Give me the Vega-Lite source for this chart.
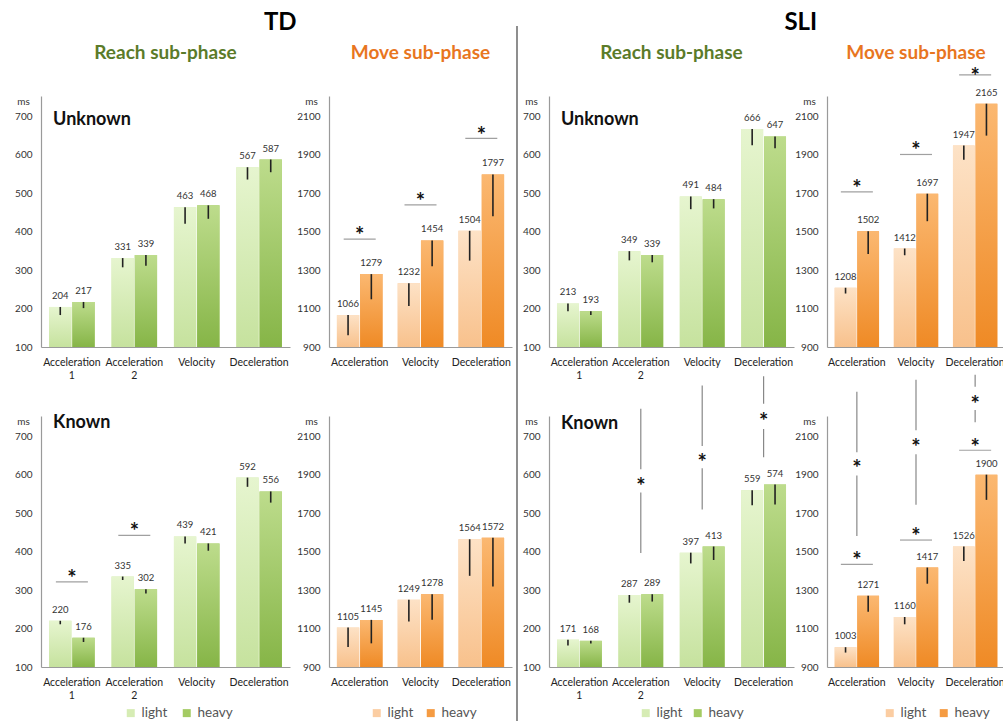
{
"$schema": "https://vega.github.io/schema/vega-lite/v6.json",
"background": "white",
"padding": {"left": 14, "top": 10, "right": 0, "bottom": 0},
"datasets": {
"bars": [
{"g":"TD","c":"Unknown","s":"Reach","phase":"Acceleration 1","w":"light","v":204,"lo":183},
{"g":"TD","c":"Unknown","s":"Reach","phase":"Acceleration 1","w":"heavy","v":217,"lo":201},
{"g":"TD","c":"Unknown","s":"Reach","phase":"Acceleration 2","w":"light","v":331,"lo":307},
{"g":"TD","c":"Unknown","s":"Reach","phase":"Acceleration 2","w":"heavy","v":339,"lo":311},
{"g":"TD","c":"Unknown","s":"Reach","phase":"Velocity","w":"light","v":463,"lo":420},
{"g":"TD","c":"Unknown","s":"Reach","phase":"Velocity","w":"heavy","v":468,"lo":433},
{"g":"TD","c":"Unknown","s":"Reach","phase":"Deceleration","w":"light","v":567,"lo":535},
{"g":"TD","c":"Unknown","s":"Reach","phase":"Deceleration","w":"heavy","v":587,"lo":554},
{"g":"TD","c":"Unknown","s":"Move","phase":"Acceleration","w":"light","v":1066,"lo":961},
{"g":"TD","c":"Unknown","s":"Move","phase":"Acceleration","w":"heavy","v":1279,"lo":1148},
{"g":"TD","c":"Unknown","s":"Move","phase":"Velocity","w":"light","v":1232,"lo":1113},
{"g":"TD","c":"Unknown","s":"Move","phase":"Velocity","w":"heavy","v":1454,"lo":1320},
{"g":"TD","c":"Unknown","s":"Move","phase":"Deceleration","w":"light","v":1504,"lo":1349},
{"g":"TD","c":"Unknown","s":"Move","phase":"Deceleration","w":"heavy","v":1797,"lo":1580},
{"g":"SLI","c":"Unknown","s":"Reach","phase":"Acceleration 1","w":"light","v":213,"lo":193},
{"g":"SLI","c":"Unknown","s":"Reach","phase":"Acceleration 1","w":"heavy","v":193,"lo":183},
{"g":"SLI","c":"Unknown","s":"Reach","phase":"Acceleration 2","w":"light","v":349,"lo":325},
{"g":"SLI","c":"Unknown","s":"Reach","phase":"Acceleration 2","w":"heavy","v":339,"lo":320},
{"g":"SLI","c":"Unknown","s":"Reach","phase":"Velocity","w":"light","v":491,"lo":458},
{"g":"SLI","c":"Unknown","s":"Reach","phase":"Velocity","w":"heavy","v":484,"lo":460},
{"g":"SLI","c":"Unknown","s":"Reach","phase":"Deceleration","w":"light","v":666,"lo":624},
{"g":"SLI","c":"Unknown","s":"Reach","phase":"Deceleration","w":"heavy","v":647,"lo":616},
{"g":"SLI","c":"Unknown","s":"Move","phase":"Acceleration","w":"light","v":1208,"lo":1178},
{"g":"SLI","c":"Unknown","s":"Move","phase":"Acceleration","w":"heavy","v":1502,"lo":1383},
{"g":"SLI","c":"Unknown","s":"Move","phase":"Velocity","w":"light","v":1412,"lo":1377},
{"g":"SLI","c":"Unknown","s":"Move","phase":"Velocity","w":"heavy","v":1697,"lo":1554},
{"g":"SLI","c":"Unknown","s":"Move","phase":"Deceleration","w":"light","v":1947,"lo":1874},
{"g":"SLI","c":"Unknown","s":"Move","phase":"Deceleration","w":"heavy","v":2165,"lo":1999},
{"g":"TD","c":"Known","s":"Reach","phase":"Acceleration 1","w":"light","v":220,"lo":211},
{"g":"TD","c":"Known","s":"Reach","phase":"Acceleration 1","w":"heavy","v":176,"lo":165},
{"g":"TD","c":"Known","s":"Reach","phase":"Acceleration 2","w":"light","v":335,"lo":326},
{"g":"TD","c":"Known","s":"Reach","phase":"Acceleration 2","w":"heavy","v":302,"lo":291},
{"g":"TD","c":"Known","s":"Reach","phase":"Velocity","w":"light","v":439,"lo":421},
{"g":"TD","c":"Known","s":"Reach","phase":"Velocity","w":"heavy","v":421,"lo":402},
{"g":"TD","c":"Known","s":"Reach","phase":"Deceleration","w":"light","v":592,"lo":568},
{"g":"TD","c":"Known","s":"Reach","phase":"Deceleration","w":"heavy","v":556,"lo":527},
{"g":"TD","c":"Known","s":"Move","phase":"Acceleration","w":"light","v":1105,"lo":1004},
{"g":"TD","c":"Known","s":"Move","phase":"Acceleration","w":"heavy","v":1145,"lo":1023},
{"g":"TD","c":"Known","s":"Move","phase":"Velocity","w":"light","v":1249,"lo":1136},
{"g":"TD","c":"Known","s":"Move","phase":"Velocity","w":"heavy","v":1278,"lo":1146},
{"g":"TD","c":"Known","s":"Move","phase":"Deceleration","w":"light","v":1564,"lo":1374},
{"g":"TD","c":"Known","s":"Move","phase":"Deceleration","w":"heavy","v":1572,"lo":1318},
{"g":"SLI","c":"Known","s":"Reach","phase":"Acceleration 1","w":"light","v":171,"lo":156},
{"g":"SLI","c":"Known","s":"Reach","phase":"Acceleration 1","w":"heavy","v":168,"lo":161},
{"g":"SLI","c":"Known","s":"Reach","phase":"Acceleration 2","w":"light","v":287,"lo":267},
{"g":"SLI","c":"Known","s":"Reach","phase":"Acceleration 2","w":"heavy","v":289,"lo":270},
{"g":"SLI","c":"Known","s":"Reach","phase":"Velocity","w":"light","v":397,"lo":369},
{"g":"SLI","c":"Known","s":"Reach","phase":"Velocity","w":"heavy","v":413,"lo":378},
{"g":"SLI","c":"Known","s":"Reach","phase":"Deceleration","w":"light","v":559,"lo":520},
{"g":"SLI","c":"Known","s":"Reach","phase":"Deceleration","w":"heavy","v":574,"lo":522},
{"g":"SLI","c":"Known","s":"Move","phase":"Acceleration","w":"light","v":1003,"lo":975},
{"g":"SLI","c":"Known","s":"Move","phase":"Acceleration","w":"heavy","v":1271,"lo":1187},
{"g":"SLI","c":"Known","s":"Move","phase":"Velocity","w":"light","v":1160,"lo":1122},
{"g":"SLI","c":"Known","s":"Move","phase":"Velocity","w":"heavy","v":1417,"lo":1333},
{"g":"SLI","c":"Known","s":"Move","phase":"Deceleration","w":"light","v":1526,"lo":1451},
{"g":"SLI","c":"Known","s":"Move","phase":"Deceleration","w":"heavy","v":1900,"lo":1769}
],
"hlines": [
{"g":"TD","c":"Unknown","s":"Move","phase":"Acceleration","v":1461},
{"g":"TD","c":"Unknown","s":"Move","phase":"Velocity","v":1639},
{"g":"TD","c":"Unknown","s":"Move","phase":"Deceleration","v":1985},
{"g":"TD","c":"Known","s":"Reach","phase":"Acceleration 1","v":321},
{"g":"TD","c":"Known","s":"Reach","phase":"Acceleration 2","v":442},
{"g":"SLI","c":"Unknown","s":"Move","phase":"Acceleration","v":1707},
{"g":"SLI","c":"Unknown","s":"Move","phase":"Velocity","v":1901},
{"g":"SLI","c":"Unknown","s":"Move","phase":"Deceleration","v":2315},
{"g":"SLI","c":"Known","s":"Move","phase":"Acceleration","v":1434},
{"g":"SLI","c":"Known","s":"Move","phase":"Velocity","v":1560},
{"g":"SLI","c":"Known","s":"Move","phase":"Deceleration","v":2027}
],
"stars": [
{"g":"TD","c":"Unknown","s":"Move","phase":"Acceleration","v":1503},
{"g":"TD","c":"Unknown","s":"Move","phase":"Velocity","v":1681},
{"g":"TD","c":"Unknown","s":"Move","phase":"Deceleration","v":2021},
{"g":"TD","c":"Known","s":"Reach","phase":"Acceleration 1","v":342},
{"g":"TD","c":"Known","s":"Reach","phase":"Acceleration 2","v":463},
{"g":"SLI","c":"Unknown","s":"Move","phase":"Acceleration","v":1749},
{"g":"SLI","c":"Unknown","s":"Move","phase":"Velocity","v":1943},
{"g":"SLI","c":"Unknown","s":"Move","phase":"Deceleration","v":2330},
{"g":"SLI","c":"Known","s":"Move","phase":"Acceleration","v":1476},
{"g":"SLI","c":"Known","s":"Move","phase":"Velocity","v":1602},
{"g":"SLI","c":"Known","s":"Move","phase":"Deceleration","v":2063},
{"g":"SLI","c":"Known","s":"Reach","phase":"Acceleration 2","v":580},
{"g":"SLI","c":"Known","s":"Reach","phase":"Velocity","v":642},
{"g":"SLI","c":"Known","s":"Reach","phase":"Deceleration","v":750},
{"g":"SLI","c":"Known","s":"Move","phase":"Acceleration","v":1953},
{"g":"SLI","c":"Known","s":"Move","phase":"Velocity","v":2063},
{"g":"SLI","c":"Known","s":"Move","phase":"Deceleration","v":2289}
],
"vsegs": [
{"g":"SLI","c":"Known","s":"Reach","phase":"Acceleration 2","v":771,"v2":614},
{"g":"SLI","c":"Known","s":"Reach","phase":"Acceleration 2","v":553,"v2":396},
{"g":"SLI","c":"Known","s":"Reach","phase":"Velocity","v":831,"v2":674},
{"g":"SLI","c":"Known","s":"Reach","phase":"Velocity","v":616,"v2":509},
{"g":"SLI","c":"Known","s":"Reach","phase":"Deceleration","v":855,"v2":784},
{"g":"SLI","c":"Known","s":"Reach","phase":"Deceleration","v":718,"v2":645},
{"g":"SLI","c":"Known","s":"Move","phase":"Acceleration","v":2331,"v2":2016},
{"g":"SLI","c":"Known","s":"Move","phase":"Acceleration","v":1896,"v2":1581},
{"g":"SLI","c":"Known","s":"Move","phase":"Velocity","v":2393,"v2":2131},
{"g":"SLI","c":"Known","s":"Move","phase":"Velocity","v":2006,"v2":1744},
{"g":"SLI","c":"Known","s":"Move","phase":"Deceleration","v":2420,"v2":2357},
{"g":"SLI","c":"Known","s":"Move","phase":"Deceleration","v":2236,"v2":2173}
],
"labels": [
{"g":"TD","c":"Unknown","phase":"Acceleration 1","v":690,"t":"Unknown"},
{"g":"SLI","c":"Unknown","phase":"Acceleration 1","v":690,"t":"Unknown"},
{"g":"TD","c":"Known","phase":"Acceleration 1","v":735,"t":"Known"},
{"g":"SLI","c":"Known","phase":"Acceleration 1","v":730,"t":"Known"}
],
"divider": [{"x": 0, "y": -0.1, "y2": 1.0986}]
},
"resolve": {"scale": {"x": "independent", "y": "independent", "color": "independent", "xOffset": "independent"}, "axis": {"x": "independent", "y": "independent"}, "legend": {"color": "independent"}},
"spacing": 4,
"hconcat": [
{
"title": {"text": "TD", "fontSize": 24, "fontWeight": "bold", "color": "#000", "offset": -15, "baseline": "bottom", "dx": 17},
"spacing": 6,
"resolve": {"scale": {"x": "independent", "y": "independent", "color": "independent", "xOffset": "independent"}, "axis": {"x": "independent", "y": "independent"}, "legend": {"color": "independent"}},
"hconcat": [
{"spacing": 69, "bounds": "flush",
"resolve": {"scale": {"x": "independent", "y": "independent", "color": "independent", "xOffset": "independent"}, "axis": {"x": "independent", "y": "independent"}, "legend": {"color": "independent"}},
"vconcat": [
{"width": 249, "height": 251,
"title": {"text": "Reach sub-phase", "color": "#5b7b29", "fontSize": 19, "fontWeight": "bold", "offset": 14, "baseline": "bottom"},
"layer": [
{"data": {"name": "bars"}, "transform": [{"filter": "datum.g=='TD'&&datum.c=='Unknown'&&datum.s=='Reach'"}],
"mark": {"type": "bar"},
"encoding": {
"x": {"field": "phase", "type": "nominal", "sort": null, "scale": {"domain": ["Acceleration 1","Acceleration 2","Velocity","Deceleration"], "paddingInner": 0.27, "paddingOuter": 0.13}, "axis": {"title": null, "labelExpr": "split(datum.label, ' ')"}},
"xOffset": {"field": "w", "type": "nominal", "sort": null, "scale": {"domain": ["light","heavy"], "paddingInner": 0.04}},
"y": {"field": "v", "type": "quantitative", "scale": {"domain": [100, 752], "nice": false, "zero": false}, "axis": {"title": "ms", "values": [100,200,300,400,500,600,700]}},
"y2": {"datum": 100},
"color": {"field": "w", "type": "nominal", "scale": {"domain": ["light","heavy"], "range": ["#d6ecb4","#a4cb63"]}, "legend": null}
}},
{"data": {"name": "bars"}, "transform": [{"filter": "datum.g=='TD'&&datum.c=='Unknown'&&datum.s=='Reach'"}],
"mark": {"type": "bar"},
"encoding": {
"x": {"field": "phase", "type": "nominal", "sort": null, "scale": {"domain": ["Acceleration 1","Acceleration 2","Velocity","Deceleration"], "paddingInner": 0.27, "paddingOuter": 0.13}},
"xOffset": {"field": "w", "type": "nominal", "sort": null, "scale": {"domain": ["light","heavy"], "paddingInner": 0.04}},
"y": {"field": "v", "type": "quantitative", "scale": {"domain": [100, 752], "nice": false, "zero": false}},
"y2": {"datum": 100},
"color": {"condition": {"test": "datum.w=='light'", "value": {"gradient": "linear", "x1": 0, "y1": 0, "x2": 0, "y2": 1, "stops": [{"offset": 0, "color": "#e6f5cf"}, {"offset": 1, "color": "#c6e29e"}]}}, "value": {"gradient": "linear", "x1": 0, "y1": 0, "x2": 0, "y2": 1, "stops": [{"offset": 0, "color": "#bddc8c"}, {"offset": 1, "color": "#86b547"}]}}
}},
{"data": {"name": "bars"}, "transform": [{"filter": "datum.g=='TD'&&datum.c=='Unknown'&&datum.s=='Reach'"}],
"mark": {"type": "rule", "color": "#222", "strokeWidth": 1.6},
"encoding": {
"x": {"field": "phase", "type": "nominal", "sort": null, "scale": {"domain": ["Acceleration 1","Acceleration 2","Velocity","Deceleration"], "paddingInner": 0.27, "paddingOuter": 0.13}},
"xOffset": {"field": "w", "type": "nominal", "sort": null, "scale": {"domain": ["light","heavy"], "paddingInner": 0.04}},
"y": {"field": "lo", "type": "quantitative", "scale": {"domain": [100, 752], "nice": false, "zero": false}},
"y2": {"field": "v"}
}},
{"data": {"name": "bars"}, "transform": [{"filter": "datum.g=='TD'&&datum.c=='Unknown'&&datum.s=='Reach'"}],
"mark": {"type": "text", "baseline": "bottom", "dy": -6, "fontSize": 9.5, "color": "#333"},
"encoding": {
"x": {"field": "phase", "type": "nominal", "sort": null, "scale": {"domain": ["Acceleration 1","Acceleration 2","Velocity","Deceleration"], "paddingInner": 0.27, "paddingOuter": 0.13}},
"xOffset": {"field": "w", "type": "nominal", "sort": null, "scale": {"domain": ["light","heavy"], "paddingInner": 0.04}},
"y": {"field": "v", "type": "quantitative", "scale": {"domain": [100, 752], "nice": false, "zero": false}},
"text": {"field": "v", "type": "quantitative", "format": "d"}
}},
{"data": {"name": "labels"}, "transform": [{"filter": "datum.g=='TD'&&datum.c=='Unknown'"}],
"mark": {"type": "text", "align": "left", "baseline": "middle", "dx": 4, "fontSize": 18, "fontWeight": "bold", "color": "#111"},
"encoding": {
"x": {"field": "phase", "type": "nominal", "sort": null, "bandPosition": 0, "scale": {"domain": ["Acceleration 1","Acceleration 2","Velocity","Deceleration"], "paddingInner": 0.27, "paddingOuter": 0.13}},
"y": {"field": "v", "type": "quantitative", "scale": {"domain": [100, 752], "nice": false, "zero": false}},
"text": {"field": "t"}
}}
]},
{"width": 249, "height": 251,
"layer": [
{"data": {"name": "bars"}, "transform": [{"filter": "datum.g=='TD'&&datum.c=='Known'&&datum.s=='Reach'"}],
"mark": {"type": "bar"},
"encoding": {
"x": {"field": "phase", "type": "nominal", "sort": null, "scale": {"domain": ["Acceleration 1","Acceleration 2","Velocity","Deceleration"], "paddingInner": 0.27, "paddingOuter": 0.13}, "axis": {"title": null, "labelExpr": "split(datum.label, ' ')"}},
"xOffset": {"field": "w", "type": "nominal", "sort": null, "scale": {"domain": ["light","heavy"], "paddingInner": 0.04}},
"y": {"field": "v", "type": "quantitative", "scale": {"domain": [100, 752], "nice": false, "zero": false}, "axis": {"title": "ms", "values": [100,200,300,400,500,600,700]}},
"y2": {"datum": 100},
"color": {"field": "w", "type": "nominal", "scale": {"domain": ["light","heavy"], "range": ["#d6ecb4","#a4cb63"]}, "legend": {"orient": "none", "legendX": 83, "legendY": 290, "direction": "horizontal", "title": null, "symbolType": "square", "symbolSize": 64, "symbolStrokeWidth": 0, "labelFontSize": 13.5, "labelColor": "#555", "columnPadding": 12}}
}},
{"data": {"name": "bars"}, "transform": [{"filter": "datum.g=='TD'&&datum.c=='Known'&&datum.s=='Reach'"}],
"mark": {"type": "bar"},
"encoding": {
"x": {"field": "phase", "type": "nominal", "sort": null, "scale": {"domain": ["Acceleration 1","Acceleration 2","Velocity","Deceleration"], "paddingInner": 0.27, "paddingOuter": 0.13}},
"xOffset": {"field": "w", "type": "nominal", "sort": null, "scale": {"domain": ["light","heavy"], "paddingInner": 0.04}},
"y": {"field": "v", "type": "quantitative", "scale": {"domain": [100, 752], "nice": false, "zero": false}},
"y2": {"datum": 100},
"color": {"condition": {"test": "datum.w=='light'", "value": {"gradient": "linear", "x1": 0, "y1": 0, "x2": 0, "y2": 1, "stops": [{"offset": 0, "color": "#e6f5cf"}, {"offset": 1, "color": "#c6e29e"}]}}, "value": {"gradient": "linear", "x1": 0, "y1": 0, "x2": 0, "y2": 1, "stops": [{"offset": 0, "color": "#bddc8c"}, {"offset": 1, "color": "#86b547"}]}}
}},
{"data": {"name": "bars"}, "transform": [{"filter": "datum.g=='TD'&&datum.c=='Known'&&datum.s=='Reach'"}],
"mark": {"type": "rule", "color": "#222", "strokeWidth": 1.6},
"encoding": {
"x": {"field": "phase", "type": "nominal", "sort": null, "scale": {"domain": ["Acceleration 1","Acceleration 2","Velocity","Deceleration"], "paddingInner": 0.27, "paddingOuter": 0.13}},
"xOffset": {"field": "w", "type": "nominal", "sort": null, "scale": {"domain": ["light","heavy"], "paddingInner": 0.04}},
"y": {"field": "lo", "type": "quantitative", "scale": {"domain": [100, 752], "nice": false, "zero": false}},
"y2": {"field": "v"}
}},
{"data": {"name": "bars"}, "transform": [{"filter": "datum.g=='TD'&&datum.c=='Known'&&datum.s=='Reach'"}],
"mark": {"type": "text", "baseline": "bottom", "dy": -6, "fontSize": 9.5, "color": "#333"},
"encoding": {
"x": {"field": "phase", "type": "nominal", "sort": null, "scale": {"domain": ["Acceleration 1","Acceleration 2","Velocity","Deceleration"], "paddingInner": 0.27, "paddingOuter": 0.13}},
"xOffset": {"field": "w", "type": "nominal", "sort": null, "scale": {"domain": ["light","heavy"], "paddingInner": 0.04}},
"y": {"field": "v", "type": "quantitative", "scale": {"domain": [100, 752], "nice": false, "zero": false}},
"text": {"field": "v", "type": "quantitative", "format": "d"}
}},
{"data": {"name": "hlines"}, "transform": [{"filter": "datum.g=='TD'&&datum.c=='Known'&&datum.s=='Reach'"}],
"mark": {"type": "tick", "color": "#777", "thickness": 1.2, "size": 32},
"encoding": {
"x": {"field": "phase", "type": "nominal", "sort": null, "scale": {"domain": ["Acceleration 1","Acceleration 2","Velocity","Deceleration"], "paddingInner": 0.27, "paddingOuter": 0.13}},
"y": {"field": "v", "type": "quantitative", "scale": {"domain": [100, 752], "nice": false, "zero": false}}
}},
{"data": {"name": "stars"}, "transform": [{"filter": "datum.g=='TD'&&datum.c=='Known'&&datum.s=='Reach'"}],
"mark": {"type": "text", "text": "*", "fontSize": 22, "fontWeight": "bold", "baseline": "middle", "dy": 5, "color": "#111"},
"encoding": {
"x": {"field": "phase", "type": "nominal", "sort": null, "scale": {"domain": ["Acceleration 1","Acceleration 2","Velocity","Deceleration"], "paddingInner": 0.27, "paddingOuter": 0.13}},
"y": {"field": "v", "type": "quantitative", "scale": {"domain": [100, 752], "nice": false, "zero": false}}
}},
{"data": {"name": "labels"}, "transform": [{"filter": "datum.g=='TD'&&datum.c=='Known'"}],
"mark": {"type": "text", "align": "left", "baseline": "middle", "dx": 4, "fontSize": 18, "fontWeight": "bold", "color": "#111"},
"encoding": {
"x": {"field": "phase", "type": "nominal", "sort": null, "bandPosition": 0, "scale": {"domain": ["Acceleration 1","Acceleration 2","Velocity","Deceleration"], "paddingInner": 0.27, "paddingOuter": 0.13}},
"y": {"field": "v", "type": "quantitative", "scale": {"domain": [100, 752], "nice": false, "zero": false}},
"text": {"field": "t"}
}}
]}
]},
{"spacing": 69, "bounds": "flush",
"resolve": {"scale": {"x": "independent", "y": "independent", "color": "independent", "xOffset": "independent"}, "axis": {"x": "independent", "y": "independent"}, "legend": {"color": "independent"}},
"vconcat": [
{"width": 183, "height": 251,
"title": {"text": "Move sub-phase", "color": "#e8761f", "fontSize": 19, "fontWeight": "bold", "offset": 14, "baseline": "bottom"},
"layer": [
{"data": {"name": "bars"}, "transform": [{"filter": "datum.g=='TD'&&datum.c=='Unknown'&&datum.s=='Move'"}],
"mark": {"type": "bar"},
"encoding": {
"x": {"field": "phase", "type": "nominal", "sort": null, "scale": {"domain": ["Acceleration","Velocity","Deceleration"], "paddingInner": 0.25, "paddingOuter": 0.13}, "axis": {"title": null}},
"xOffset": {"field": "w", "type": "nominal", "sort": null, "scale": {"domain": ["light","heavy"], "paddingInner": 0.04}},
"y": {"field": "v", "type": "quantitative", "scale": {"domain": [900, 2205], "nice": false, "zero": false}, "axis": {"title": "ms", "values": [900,1100,1300,1500,1700,1900,2100], "format": "d"}},
"y2": {"datum": 900},
"color": {"field": "w", "type": "nominal", "scale": {"domain": ["light","heavy"], "range": ["#fbcda2","#f59b42"]}, "legend": null}
}},
{"data": {"name": "bars"}, "transform": [{"filter": "datum.g=='TD'&&datum.c=='Unknown'&&datum.s=='Move'"}],
"mark": {"type": "bar"},
"encoding": {
"x": {"field": "phase", "type": "nominal", "sort": null, "scale": {"domain": ["Acceleration","Velocity","Deceleration"], "paddingInner": 0.25, "paddingOuter": 0.13}},
"xOffset": {"field": "w", "type": "nominal", "sort": null, "scale": {"domain": ["light","heavy"], "paddingInner": 0.04}},
"y": {"field": "v", "type": "quantitative", "scale": {"domain": [900, 2205], "nice": false, "zero": false}},
"y2": {"datum": 900},
"color": {"condition": {"test": "datum.w=='light'", "value": {"gradient": "linear", "x1": 0, "y1": 0, "x2": 0, "y2": 1, "stops": [{"offset": 0, "color": "#fde2c6"}, {"offset": 1, "color": "#f8c18c"}]}}, "value": {"gradient": "linear", "x1": 0, "y1": 0, "x2": 0, "y2": 1, "stops": [{"offset": 0, "color": "#fbb871"}, {"offset": 1, "color": "#ef8a25"}]}}
}},
{"data": {"name": "bars"}, "transform": [{"filter": "datum.g=='TD'&&datum.c=='Unknown'&&datum.s=='Move'"}],
"mark": {"type": "rule", "color": "#222", "strokeWidth": 1.6},
"encoding": {
"x": {"field": "phase", "type": "nominal", "sort": null, "scale": {"domain": ["Acceleration","Velocity","Deceleration"], "paddingInner": 0.25, "paddingOuter": 0.13}},
"xOffset": {"field": "w", "type": "nominal", "sort": null, "scale": {"domain": ["light","heavy"], "paddingInner": 0.04}},
"y": {"field": "lo", "type": "quantitative", "scale": {"domain": [900, 2205], "nice": false, "zero": false}},
"y2": {"field": "v"}
}},
{"data": {"name": "bars"}, "transform": [{"filter": "datum.g=='TD'&&datum.c=='Unknown'&&datum.s=='Move'"}],
"mark": {"type": "text", "baseline": "bottom", "dy": -6, "fontSize": 9.5, "color": "#333"},
"encoding": {
"x": {"field": "phase", "type": "nominal", "sort": null, "scale": {"domain": ["Acceleration","Velocity","Deceleration"], "paddingInner": 0.25, "paddingOuter": 0.13}},
"xOffset": {"field": "w", "type": "nominal", "sort": null, "scale": {"domain": ["light","heavy"], "paddingInner": 0.04}},
"y": {"field": "v", "type": "quantitative", "scale": {"domain": [900, 2205], "nice": false, "zero": false}},
"text": {"field": "v", "type": "quantitative", "format": "d"}
}},
{"data": {"name": "hlines"}, "transform": [{"filter": "datum.g=='TD'&&datum.c=='Unknown'&&datum.s=='Move'"}],
"mark": {"type": "tick", "color": "#777", "thickness": 1.2, "size": 32},
"encoding": {
"x": {"field": "phase", "type": "nominal", "sort": null, "scale": {"domain": ["Acceleration","Velocity","Deceleration"], "paddingInner": 0.25, "paddingOuter": 0.13}},
"y": {"field": "v", "type": "quantitative", "scale": {"domain": [900, 2205], "nice": false, "zero": false}}
}},
{"data": {"name": "stars"}, "transform": [{"filter": "datum.g=='TD'&&datum.c=='Unknown'&&datum.s=='Move'"}],
"mark": {"type": "text", "text": "*", "fontSize": 22, "fontWeight": "bold", "baseline": "middle", "dy": 5, "color": "#111"},
"encoding": {
"x": {"field": "phase", "type": "nominal", "sort": null, "scale": {"domain": ["Acceleration","Velocity","Deceleration"], "paddingInner": 0.25, "paddingOuter": 0.13}},
"y": {"field": "v", "type": "quantitative", "scale": {"domain": [900, 2205], "nice": false, "zero": false}}
}}
]},
{"width": 183, "height": 251,
"layer": [
{"data": {"name": "bars"}, "transform": [{"filter": "datum.g=='TD'&&datum.c=='Known'&&datum.s=='Move'"}],
"mark": {"type": "bar"},
"encoding": {
"x": {"field": "phase", "type": "nominal", "sort": null, "scale": {"domain": ["Acceleration","Velocity","Deceleration"], "paddingInner": 0.25, "paddingOuter": 0.13}, "axis": {"title": null}},
"xOffset": {"field": "w", "type": "nominal", "sort": null, "scale": {"domain": ["light","heavy"], "paddingInner": 0.04}},
"y": {"field": "v", "type": "quantitative", "scale": {"domain": [900, 2205], "nice": false, "zero": false}, "axis": {"title": "ms", "values": [900,1100,1300,1500,1700,1900,2100], "format": "d"}},
"y2": {"datum": 900},
"color": {"field": "w", "type": "nominal", "scale": {"domain": ["light","heavy"], "range": ["#fbcda2","#f59b42"]}, "legend": {"orient": "none", "legendX": 41, "legendY": 290, "direction": "horizontal", "title": null, "symbolType": "square", "symbolSize": 64, "symbolStrokeWidth": 0, "labelFontSize": 13.5, "labelColor": "#555", "columnPadding": 10}}
}},
{"data": {"name": "bars"}, "transform": [{"filter": "datum.g=='TD'&&datum.c=='Known'&&datum.s=='Move'"}],
"mark": {"type": "bar"},
"encoding": {
"x": {"field": "phase", "type": "nominal", "sort": null, "scale": {"domain": ["Acceleration","Velocity","Deceleration"], "paddingInner": 0.25, "paddingOuter": 0.13}},
"xOffset": {"field": "w", "type": "nominal", "sort": null, "scale": {"domain": ["light","heavy"], "paddingInner": 0.04}},
"y": {"field": "v", "type": "quantitative", "scale": {"domain": [900, 2205], "nice": false, "zero": false}},
"y2": {"datum": 900},
"color": {"condition": {"test": "datum.w=='light'", "value": {"gradient": "linear", "x1": 0, "y1": 0, "x2": 0, "y2": 1, "stops": [{"offset": 0, "color": "#fde2c6"}, {"offset": 1, "color": "#f8c18c"}]}}, "value": {"gradient": "linear", "x1": 0, "y1": 0, "x2": 0, "y2": 1, "stops": [{"offset": 0, "color": "#fbb871"}, {"offset": 1, "color": "#ef8a25"}]}}
}},
{"data": {"name": "bars"}, "transform": [{"filter": "datum.g=='TD'&&datum.c=='Known'&&datum.s=='Move'"}],
"mark": {"type": "rule", "color": "#222", "strokeWidth": 1.6},
"encoding": {
"x": {"field": "phase", "type": "nominal", "sort": null, "scale": {"domain": ["Acceleration","Velocity","Deceleration"], "paddingInner": 0.25, "paddingOuter": 0.13}},
"xOffset": {"field": "w", "type": "nominal", "sort": null, "scale": {"domain": ["light","heavy"], "paddingInner": 0.04}},
"y": {"field": "lo", "type": "quantitative", "scale": {"domain": [900, 2205], "nice": false, "zero": false}},
"y2": {"field": "v"}
}},
{"data": {"name": "bars"}, "transform": [{"filter": "datum.g=='TD'&&datum.c=='Known'&&datum.s=='Move'"}],
"mark": {"type": "text", "baseline": "bottom", "dy": -6, "fontSize": 9.5, "color": "#333"},
"encoding": {
"x": {"field": "phase", "type": "nominal", "sort": null, "scale": {"domain": ["Acceleration","Velocity","Deceleration"], "paddingInner": 0.25, "paddingOuter": 0.13}},
"xOffset": {"field": "w", "type": "nominal", "sort": null, "scale": {"domain": ["light","heavy"], "paddingInner": 0.04}},
"y": {"field": "v", "type": "quantitative", "scale": {"domain": [900, 2205], "nice": false, "zero": false}},
"text": {"field": "v", "type": "quantitative", "format": "d"}
}}
]}
]}
]
},
{"width": 1, "height": 710,
"data": {"name": "divider"},
"mark": {"type": "rule", "color": "#444", "strokeWidth": 1.2},
"encoding": {
"x": {"field": "x", "type": "quantitative", "scale": {"domain": [0, 1]}, "axis": null},
"y": {"field": "y", "type": "quantitative", "scale": {"domain": [0, 1], "nice": false, "zero": false}, "axis": null},
"y2": {"field": "y2"}
}},
{
"title": {"text": "SLI", "fontSize": 24, "fontWeight": "bold", "color": "#000", "offset": -15, "baseline": "bottom", "dx": 37},
"spacing": 0,
"resolve": {"scale": {"x": "independent", "y": "independent", "color": "independent", "xOffset": "independent"}, "axis": {"x": "independent", "y": "independent"}, "legend": {"color": "independent"}},
"hconcat": [
{"spacing": 69, "bounds": "flush",
"resolve": {"scale": {"x": "independent", "y": "independent", "color": "independent", "xOffset": "independent"}, "axis": {"x": "independent", "y": "independent"}, "legend": {"color": "independent"}},
"vconcat": [
{"width": 245, "height": 251,
"title": {"text": "Reach sub-phase", "color": "#5b7b29", "fontSize": 19, "fontWeight": "bold", "offset": 14, "baseline": "bottom"},
"layer": [
{"data": {"name": "bars"}, "transform": [{"filter": "datum.g=='SLI'&&datum.c=='Unknown'&&datum.s=='Reach'"}],
"mark": {"type": "bar"},
"encoding": {
"x": {"field": "phase", "type": "nominal", "sort": null, "scale": {"domain": ["Acceleration 1","Acceleration 2","Velocity","Deceleration"], "paddingInner": 0.27, "paddingOuter": 0.13}, "axis": {"title": null, "labelExpr": "split(datum.label, ' ')"}},
"xOffset": {"field": "w", "type": "nominal", "sort": null, "scale": {"domain": ["light","heavy"], "paddingInner": 0.04}},
"y": {"field": "v", "type": "quantitative", "scale": {"domain": [100, 752], "nice": false, "zero": false}, "axis": {"title": "ms", "values": [100,200,300,400,500,600,700]}},
"y2": {"datum": 100},
"color": {"field": "w", "type": "nominal", "scale": {"domain": ["light","heavy"], "range": ["#d6ecb4","#a4cb63"]}, "legend": null}
}},
{"data": {"name": "bars"}, "transform": [{"filter": "datum.g=='SLI'&&datum.c=='Unknown'&&datum.s=='Reach'"}],
"mark": {"type": "bar"},
"encoding": {
"x": {"field": "phase", "type": "nominal", "sort": null, "scale": {"domain": ["Acceleration 1","Acceleration 2","Velocity","Deceleration"], "paddingInner": 0.27, "paddingOuter": 0.13}},
"xOffset": {"field": "w", "type": "nominal", "sort": null, "scale": {"domain": ["light","heavy"], "paddingInner": 0.04}},
"y": {"field": "v", "type": "quantitative", "scale": {"domain": [100, 752], "nice": false, "zero": false}},
"y2": {"datum": 100},
"color": {"condition": {"test": "datum.w=='light'", "value": {"gradient": "linear", "x1": 0, "y1": 0, "x2": 0, "y2": 1, "stops": [{"offset": 0, "color": "#e6f5cf"}, {"offset": 1, "color": "#c6e29e"}]}}, "value": {"gradient": "linear", "x1": 0, "y1": 0, "x2": 0, "y2": 1, "stops": [{"offset": 0, "color": "#bddc8c"}, {"offset": 1, "color": "#86b547"}]}}
}},
{"data": {"name": "bars"}, "transform": [{"filter": "datum.g=='SLI'&&datum.c=='Unknown'&&datum.s=='Reach'"}],
"mark": {"type": "rule", "color": "#222", "strokeWidth": 1.6},
"encoding": {
"x": {"field": "phase", "type": "nominal", "sort": null, "scale": {"domain": ["Acceleration 1","Acceleration 2","Velocity","Deceleration"], "paddingInner": 0.27, "paddingOuter": 0.13}},
"xOffset": {"field": "w", "type": "nominal", "sort": null, "scale": {"domain": ["light","heavy"], "paddingInner": 0.04}},
"y": {"field": "lo", "type": "quantitative", "scale": {"domain": [100, 752], "nice": false, "zero": false}},
"y2": {"field": "v"}
}},
{"data": {"name": "bars"}, "transform": [{"filter": "datum.g=='SLI'&&datum.c=='Unknown'&&datum.s=='Reach'"}],
"mark": {"type": "text", "baseline": "bottom", "dy": -6, "fontSize": 9.5, "color": "#333"},
"encoding": {
"x": {"field": "phase", "type": "nominal", "sort": null, "scale": {"domain": ["Acceleration 1","Acceleration 2","Velocity","Deceleration"], "paddingInner": 0.27, "paddingOuter": 0.13}},
"xOffset": {"field": "w", "type": "nominal", "sort": null, "scale": {"domain": ["light","heavy"], "paddingInner": 0.04}},
"y": {"field": "v", "type": "quantitative", "scale": {"domain": [100, 752], "nice": false, "zero": false}},
"text": {"field": "v", "type": "quantitative", "format": "d"}
}},
{"data": {"name": "labels"}, "transform": [{"filter": "datum.g=='SLI'&&datum.c=='Unknown'"}],
"mark": {"type": "text", "align": "left", "baseline": "middle", "dx": 4, "fontSize": 18, "fontWeight": "bold", "color": "#111"},
"encoding": {
"x": {"field": "phase", "type": "nominal", "sort": null, "bandPosition": 0, "scale": {"domain": ["Acceleration 1","Acceleration 2","Velocity","Deceleration"], "paddingInner": 0.27, "paddingOuter": 0.13}},
"y": {"field": "v", "type": "quantitative", "scale": {"domain": [100, 752], "nice": false, "zero": false}},
"text": {"field": "t"}
}}
]},
{"width": 245, "height": 251,
"layer": [
{"data": {"name": "bars"}, "transform": [{"filter": "datum.g=='SLI'&&datum.c=='Known'&&datum.s=='Reach'"}],
"mark": {"type": "bar"},
"encoding": {
"x": {"field": "phase", "type": "nominal", "sort": null, "scale": {"domain": ["Acceleration 1","Acceleration 2","Velocity","Deceleration"], "paddingInner": 0.27, "paddingOuter": 0.13}, "axis": {"title": null, "labelExpr": "split(datum.label, ' ')"}},
"xOffset": {"field": "w", "type": "nominal", "sort": null, "scale": {"domain": ["light","heavy"], "paddingInner": 0.04}},
"y": {"field": "v", "type": "quantitative", "scale": {"domain": [100, 752], "nice": false, "zero": false}, "axis": {"title": "ms", "values": [100,200,300,400,500,600,700]}},
"y2": {"datum": 100},
"color": {"field": "w", "type": "nominal", "scale": {"domain": ["light","heavy"], "range": ["#d6ecb4","#a4cb63"]}, "legend": {"orient": "none", "legendX": 90, "legendY": 290, "direction": "horizontal", "title": null, "symbolType": "square", "symbolSize": 64, "symbolStrokeWidth": 0, "labelFontSize": 13.5, "labelColor": "#555", "columnPadding": 8}}
}},
{"data": {"name": "bars"}, "transform": [{"filter": "datum.g=='SLI'&&datum.c=='Known'&&datum.s=='Reach'"}],
"mark": {"type": "bar"},
"encoding": {
"x": {"field": "phase", "type": "nominal", "sort": null, "scale": {"domain": ["Acceleration 1","Acceleration 2","Velocity","Deceleration"], "paddingInner": 0.27, "paddingOuter": 0.13}},
"xOffset": {"field": "w", "type": "nominal", "sort": null, "scale": {"domain": ["light","heavy"], "paddingInner": 0.04}},
"y": {"field": "v", "type": "quantitative", "scale": {"domain": [100, 752], "nice": false, "zero": false}},
"y2": {"datum": 100},
"color": {"condition": {"test": "datum.w=='light'", "value": {"gradient": "linear", "x1": 0, "y1": 0, "x2": 0, "y2": 1, "stops": [{"offset": 0, "color": "#e6f5cf"}, {"offset": 1, "color": "#c6e29e"}]}}, "value": {"gradient": "linear", "x1": 0, "y1": 0, "x2": 0, "y2": 1, "stops": [{"offset": 0, "color": "#bddc8c"}, {"offset": 1, "color": "#86b547"}]}}
}},
{"data": {"name": "bars"}, "transform": [{"filter": "datum.g=='SLI'&&datum.c=='Known'&&datum.s=='Reach'"}],
"mark": {"type": "rule", "color": "#222", "strokeWidth": 1.6},
"encoding": {
"x": {"field": "phase", "type": "nominal", "sort": null, "scale": {"domain": ["Acceleration 1","Acceleration 2","Velocity","Deceleration"], "paddingInner": 0.27, "paddingOuter": 0.13}},
"xOffset": {"field": "w", "type": "nominal", "sort": null, "scale": {"domain": ["light","heavy"], "paddingInner": 0.04}},
"y": {"field": "lo", "type": "quantitative", "scale": {"domain": [100, 752], "nice": false, "zero": false}},
"y2": {"field": "v"}
}},
{"data": {"name": "bars"}, "transform": [{"filter": "datum.g=='SLI'&&datum.c=='Known'&&datum.s=='Reach'"}],
"mark": {"type": "text", "baseline": "bottom", "dy": -6, "fontSize": 9.5, "color": "#333"},
"encoding": {
"x": {"field": "phase", "type": "nominal", "sort": null, "scale": {"domain": ["Acceleration 1","Acceleration 2","Velocity","Deceleration"], "paddingInner": 0.27, "paddingOuter": 0.13}},
"xOffset": {"field": "w", "type": "nominal", "sort": null, "scale": {"domain": ["light","heavy"], "paddingInner": 0.04}},
"y": {"field": "v", "type": "quantitative", "scale": {"domain": [100, 752], "nice": false, "zero": false}},
"text": {"field": "v", "type": "quantitative", "format": "d"}
}},
{"data": {"name": "vsegs"}, "transform": [{"filter": "datum.g=='SLI'&&datum.c=='Known'&&datum.s=='Reach'"}],
"mark": {"type": "rule", "color": "#888", "strokeWidth": 1.2},
"encoding": {
"x": {"field": "phase", "type": "nominal", "sort": null, "scale": {"domain": ["Acceleration 1","Acceleration 2","Velocity","Deceleration"], "paddingInner": 0.27, "paddingOuter": 0.13}},
"y": {"field": "v", "type": "quantitative", "scale": {"domain": [100, 752], "nice": false, "zero": false}},
"y2": {"field": "v2"}
}},
{"data": {"name": "stars"}, "transform": [{"filter": "datum.g=='SLI'&&datum.c=='Known'&&datum.s=='Reach'"}],
"mark": {"type": "text", "text": "*", "fontSize": 22, "fontWeight": "bold", "baseline": "middle", "dy": 5, "color": "#111"},
"encoding": {
"x": {"field": "phase", "type": "nominal", "sort": null, "scale": {"domain": ["Acceleration 1","Acceleration 2","Velocity","Deceleration"], "paddingInner": 0.27, "paddingOuter": 0.13}},
"y": {"field": "v", "type": "quantitative", "scale": {"domain": [100, 752], "nice": false, "zero": false}}
}},
{"data": {"name": "labels"}, "transform": [{"filter": "datum.g=='SLI'&&datum.c=='Known'"}],
"mark": {"type": "text", "align": "left", "baseline": "middle", "dx": 4, "fontSize": 18, "fontWeight": "bold", "color": "#111"},
"encoding": {
"x": {"field": "phase", "type": "nominal", "sort": null, "bandPosition": 0, "scale": {"domain": ["Acceleration 1","Acceleration 2","Velocity","Deceleration"], "paddingInner": 0.27, "paddingOuter": 0.13}},
"y": {"field": "v", "type": "quantitative", "scale": {"domain": [100, 752], "nice": false, "zero": false}},
"text": {"field": "t"}
}}
]}
]},
{"spacing": 69, "bounds": "flush",
"resolve": {"scale": {"x": "independent", "y": "independent", "color": "independent", "xOffset": "independent"}, "axis": {"x": "independent", "y": "independent"}, "legend": {"color": "independent"}},
"vconcat": [
{"width": 178, "height": 251,
"title": {"text": "Move sub-phase", "color": "#e8761f", "fontSize": 19, "fontWeight": "bold", "offset": -16, "baseline": "bottom"},
"layer": [
{"data": {"name": "bars"}, "transform": [{"filter": "datum.g=='SLI'&&datum.c=='Unknown'&&datum.s=='Move'"}],
"mark": {"type": "bar"},
"encoding": {
"x": {"field": "phase", "type": "nominal", "sort": null, "scale": {"domain": ["Acceleration","Velocity","Deceleration"], "paddingInner": 0.25, "paddingOuter": 0.13}, "axis": {"title": null}},
"xOffset": {"field": "w", "type": "nominal", "sort": null, "scale": {"domain": ["light","heavy"], "paddingInner": 0.04}},
"y": {"field": "v", "type": "quantitative", "scale": {"domain": [900, 2205], "nice": false, "zero": false}, "axis": {"title": "ms", "values": [900,1100,1300,1500,1700,1900,2100], "format": "d"}},
"y2": {"datum": 900},
"color": {"field": "w", "type": "nominal", "scale": {"domain": ["light","heavy"], "range": ["#fbcda2","#f59b42"]}, "legend": null}
}},
{"data": {"name": "bars"}, "transform": [{"filter": "datum.g=='SLI'&&datum.c=='Unknown'&&datum.s=='Move'"}],
"mark": {"type": "bar"},
"encoding": {
"x": {"field": "phase", "type": "nominal", "sort": null, "scale": {"domain": ["Acceleration","Velocity","Deceleration"], "paddingInner": 0.25, "paddingOuter": 0.13}},
"xOffset": {"field": "w", "type": "nominal", "sort": null, "scale": {"domain": ["light","heavy"], "paddingInner": 0.04}},
"y": {"field": "v", "type": "quantitative", "scale": {"domain": [900, 2205], "nice": false, "zero": false}},
"y2": {"datum": 900},
"color": {"condition": {"test": "datum.w=='light'", "value": {"gradient": "linear", "x1": 0, "y1": 0, "x2": 0, "y2": 1, "stops": [{"offset": 0, "color": "#fde2c6"}, {"offset": 1, "color": "#f8c18c"}]}}, "value": {"gradient": "linear", "x1": 0, "y1": 0, "x2": 0, "y2": 1, "stops": [{"offset": 0, "color": "#fbb871"}, {"offset": 1, "color": "#ef8a25"}]}}
}},
{"data": {"name": "bars"}, "transform": [{"filter": "datum.g=='SLI'&&datum.c=='Unknown'&&datum.s=='Move'"}],
"mark": {"type": "rule", "color": "#222", "strokeWidth": 1.6},
"encoding": {
"x": {"field": "phase", "type": "nominal", "sort": null, "scale": {"domain": ["Acceleration","Velocity","Deceleration"], "paddingInner": 0.25, "paddingOuter": 0.13}},
"xOffset": {"field": "w", "type": "nominal", "sort": null, "scale": {"domain": ["light","heavy"], "paddingInner": 0.04}},
"y": {"field": "lo", "type": "quantitative", "scale": {"domain": [900, 2205], "nice": false, "zero": false}},
"y2": {"field": "v"}
}},
{"data": {"name": "bars"}, "transform": [{"filter": "datum.g=='SLI'&&datum.c=='Unknown'&&datum.s=='Move'"}],
"mark": {"type": "text", "baseline": "bottom", "dy": -6, "fontSize": 9.5, "color": "#333"},
"encoding": {
"x": {"field": "phase", "type": "nominal", "sort": null, "scale": {"domain": ["Acceleration","Velocity","Deceleration"], "paddingInner": 0.25, "paddingOuter": 0.13}},
"xOffset": {"field": "w", "type": "nominal", "sort": null, "scale": {"domain": ["light","heavy"], "paddingInner": 0.04}},
"y": {"field": "v", "type": "quantitative", "scale": {"domain": [900, 2205], "nice": false, "zero": false}},
"text": {"field": "v", "type": "quantitative", "format": "d"}
}},
{"data": {"name": "hlines"}, "transform": [{"filter": "datum.g=='SLI'&&datum.c=='Unknown'&&datum.s=='Move'"}],
"mark": {"type": "tick", "color": "#777", "thickness": 1.2, "size": 32},
"encoding": {
"x": {"field": "phase", "type": "nominal", "sort": null, "scale": {"domain": ["Acceleration","Velocity","Deceleration"], "paddingInner": 0.25, "paddingOuter": 0.13}},
"y": {"field": "v", "type": "quantitative", "scale": {"domain": [900, 2205], "nice": false, "zero": false}}
}},
{"data": {"name": "stars"}, "transform": [{"filter": "datum.g=='SLI'&&datum.c=='Unknown'&&datum.s=='Move'"}],
"mark": {"type": "text", "text": "*", "fontSize": 22, "fontWeight": "bold", "baseline": "middle", "dy": 5, "color": "#111"},
"encoding": {
"x": {"field": "phase", "type": "nominal", "sort": null, "scale": {"domain": ["Acceleration","Velocity","Deceleration"], "paddingInner": 0.25, "paddingOuter": 0.13}},
"y": {"field": "v", "type": "quantitative", "scale": {"domain": [900, 2205], "nice": false, "zero": false}}
}}
]},
{"width": 178, "height": 251,
"layer": [
{"data": {"name": "bars"}, "transform": [{"filter": "datum.g=='SLI'&&datum.c=='Known'&&datum.s=='Move'"}],
"mark": {"type": "bar"},
"encoding": {
"x": {"field": "phase", "type": "nominal", "sort": null, "scale": {"domain": ["Acceleration","Velocity","Deceleration"], "paddingInner": 0.25, "paddingOuter": 0.13}, "axis": {"title": null}},
"xOffset": {"field": "w", "type": "nominal", "sort": null, "scale": {"domain": ["light","heavy"], "paddingInner": 0.04}},
"y": {"field": "v", "type": "quantitative", "scale": {"domain": [900, 2205], "nice": false, "zero": false}, "axis": {"title": "ms", "values": [900,1100,1300,1500,1700,1900,2100], "format": "d"}},
"y2": {"datum": 900},
"color": {"field": "w", "type": "nominal", "scale": {"domain": ["light","heavy"], "range": ["#fbcda2","#f59b42"]}, "legend": {"orient": "none", "legendX": 56, "legendY": 290, "direction": "horizontal", "title": null, "symbolType": "square", "symbolSize": 64, "symbolStrokeWidth": 0, "labelFontSize": 13.5, "labelColor": "#555", "columnPadding": 10}}
}},
{"data": {"name": "bars"}, "transform": [{"filter": "datum.g=='SLI'&&datum.c=='Known'&&datum.s=='Move'"}],
"mark": {"type": "bar"},
"encoding": {
"x": {"field": "phase", "type": "nominal", "sort": null, "scale": {"domain": ["Acceleration","Velocity","Deceleration"], "paddingInner": 0.25, "paddingOuter": 0.13}},
"xOffset": {"field": "w", "type": "nominal", "sort": null, "scale": {"domain": ["light","heavy"], "paddingInner": 0.04}},
"y": {"field": "v", "type": "quantitative", "scale": {"domain": [900, 2205], "nice": false, "zero": false}},
"y2": {"datum": 900},
"color": {"condition": {"test": "datum.w=='light'", "value": {"gradient": "linear", "x1": 0, "y1": 0, "x2": 0, "y2": 1, "stops": [{"offset": 0, "color": "#fde2c6"}, {"offset": 1, "color": "#f8c18c"}]}}, "value": {"gradient": "linear", "x1": 0, "y1": 0, "x2": 0, "y2": 1, "stops": [{"offset": 0, "color": "#fbb871"}, {"offset": 1, "color": "#ef8a25"}]}}
}},
{"data": {"name": "bars"}, "transform": [{"filter": "datum.g=='SLI'&&datum.c=='Known'&&datum.s=='Move'"}],
"mark": {"type": "rule", "color": "#222", "strokeWidth": 1.6},
"encoding": {
"x": {"field": "phase", "type": "nominal", "sort": null, "scale": {"domain": ["Acceleration","Velocity","Deceleration"], "paddingInner": 0.25, "paddingOuter": 0.13}},
"xOffset": {"field": "w", "type": "nominal", "sort": null, "scale": {"domain": ["light","heavy"], "paddingInner": 0.04}},
"y": {"field": "lo", "type": "quantitative", "scale": {"domain": [900, 2205], "nice": false, "zero": false}},
"y2": {"field": "v"}
}},
{"data": {"name": "bars"}, "transform": [{"filter": "datum.g=='SLI'&&datum.c=='Known'&&datum.s=='Move'"}],
"mark": {"type": "text", "baseline": "bottom", "dy": -6, "fontSize": 9.5, "color": "#333"},
"encoding": {
"x": {"field": "phase", "type": "nominal", "sort": null, "scale": {"domain": ["Acceleration","Velocity","Deceleration"], "paddingInner": 0.25, "paddingOuter": 0.13}},
"xOffset": {"field": "w", "type": "nominal", "sort": null, "scale": {"domain": ["light","heavy"], "paddingInner": 0.04}},
"y": {"field": "v", "type": "quantitative", "scale": {"domain": [900, 2205], "nice": false, "zero": false}},
"text": {"field": "v", "type": "quantitative", "format": "d"}
}},
{"data": {"name": "hlines"}, "transform": [{"filter": "datum.g=='SLI'&&datum.c=='Known'&&datum.s=='Move'"}],
"mark": {"type": "tick", "color": "#777", "thickness": 1.2, "size": 32},
"encoding": {
"x": {"field": "phase", "type": "nominal", "sort": null, "scale": {"domain": ["Acceleration","Velocity","Deceleration"], "paddingInner": 0.25, "paddingOuter": 0.13}},
"y": {"field": "v", "type": "quantitative", "scale": {"domain": [900, 2205], "nice": false, "zero": false}}
}},
{"data": {"name": "vsegs"}, "transform": [{"filter": "datum.g=='SLI'&&datum.c=='Known'&&datum.s=='Move'"}],
"mark": {"type": "rule", "color": "#888", "strokeWidth": 1.2},
"encoding": {
"x": {"field": "phase", "type": "nominal", "sort": null, "scale": {"domain": ["Acceleration","Velocity","Deceleration"], "paddingInner": 0.25, "paddingOuter": 0.13}},
"y": {"field": "v", "type": "quantitative", "scale": {"domain": [900, 2205], "nice": false, "zero": false}},
"y2": {"field": "v2"}
}},
{"data": {"name": "stars"}, "transform": [{"filter": "datum.g=='SLI'&&datum.c=='Known'&&datum.s=='Move'"}],
"mark": {"type": "text", "text": "*", "fontSize": 22, "fontWeight": "bold", "baseline": "middle", "dy": 5, "color": "#111"},
"encoding": {
"x": {"field": "phase", "type": "nominal", "sort": null, "scale": {"domain": ["Acceleration","Velocity","Deceleration"], "paddingInner": 0.25, "paddingOuter": 0.13}},
"y": {"field": "v", "type": "quantitative", "scale": {"domain": [900, 2205], "nice": false, "zero": false}}
}}
]}
]}
]
}
],
"config": {
"font": "Lato",
"view": {"stroke": null},
"title": {"font": "Lato", "anchor": "middle"},
"axis": {"domainColor": "#9a9a9a", "domainWidth": 1.2, "ticks": false, "grid": false, "labelFont": "Lato", "labelColor": "#333", "titleFont": "Lato"},
"axisY": {"labelFontSize": 10, "labelPadding": 9, "titleAngle": 0, "titleX": -18, "titleY": 5, "titleAlign": "center", "titleBaseline": "middle", "titleFontWeight": "normal", "titleFontSize": 10, "titleColor": "#333"},
"axisX": {"labelFontSize": 10.5, "labelPadding": 10.5, "labelAngle": 0, "labelColor": "#222"},
"legend": {"labelFont": "Lato"},
"text": {"font": "Lato"}
}
}
